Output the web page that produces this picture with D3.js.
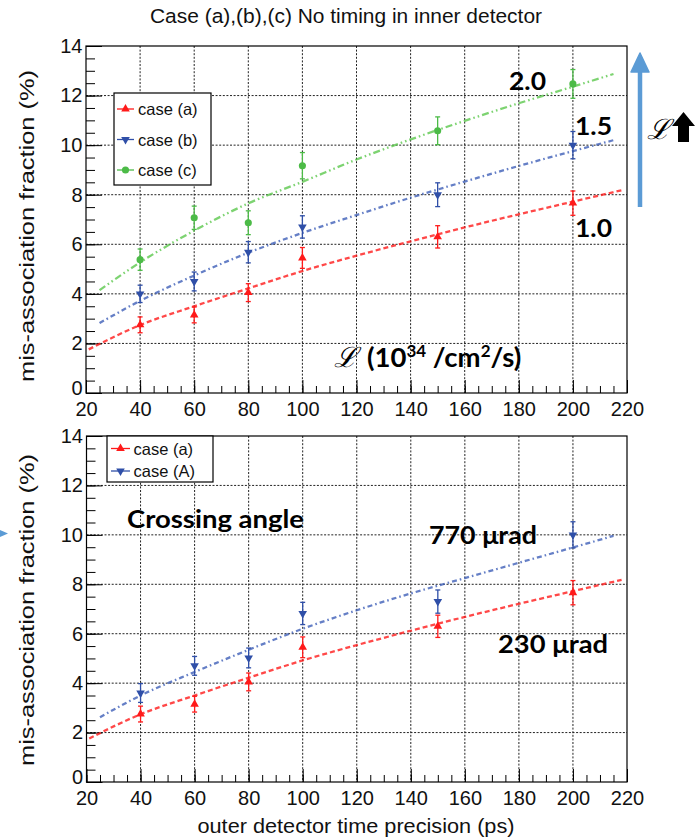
<!DOCTYPE html>
<html>
<head>
<meta charset="utf-8">
<script src="https://cdn.jsdelivr.net/npm/d3@7"></script>
<style>
  html, body { margin: 0; padding: 0; background: #fff; }
  svg { display: block; }
</style>
</head>
<body>
<svg id="chart" width="695" height="839"></svg>
<script>
// ---------------- DATA ----------------
const xPoints = [40, 60, 80, 100, 150, 200];

// top panel: luminosity
const caseA = [2.75, 3.15, 4.05, 5.45, 6.3, 7.66];
const errA  = [0.32, 0.32, 0.36, 0.42, 0.45, 0.49];
const caseB = [4.0, 4.5, 5.68, 6.7, 8.0, 10.0];
const errB  = [0.35, 0.38, 0.43, 0.45, 0.48, 0.55];
const caseC = [5.38, 7.07, 6.87, 9.17, 10.58, 12.47];
const errC  = [0.43, 0.47, 0.48, 0.53, 0.56, 0.58];

// bottom panel: crossing angle
const caseCapA = [3.6, 4.7, 5.02, 6.82, 7.3, 10.0];
const errCapA  = [0.38, 0.38, 0.40, 0.45, 0.47, 0.53];

// fit curves
const fitXa = [21, 40, 60, 80, 100, 120, 140, 160, 180, 200, 218];
const fitA  = [1.76, 2.74, 3.5, 4.22, 4.92, 5.54, 6.12, 6.68, 7.21, 7.72, 8.18];
const fitX  = [25, 40, 60, 80, 100, 120, 140, 160, 180, 200, 215];
const fitB  = [2.82, 3.72, 4.74, 5.66, 6.46, 7.18, 7.88, 8.53, 9.16, 9.76, 10.2];
const fitC  = [4.15, 5.27, 6.55, 7.65, 8.52, 9.42, 10.23, 10.98, 11.69, 12.36, 12.87];
const fitCapA = [2.62, 3.5, 4.45, 5.35, 6.2, 6.95, 7.63, 8.25, 8.87, 9.49, 9.96];

const xTicks = [20, 40, 60, 80, 100, 120, 140, 160, 180, 200, 220];
const yTicks = [0, 2, 4, 6, 8, 10, 12, 14];

const titleText = "Case (a),(b),(c) No timing in inner detector";
const yTitle = "mis-association fraction (%)";
const xTitle = "outer detector time precision (ps)";

// ---------------- STYLE ----------------
const RED = "#ff1a1a", BLUE = "#2f4fa8", GREEN = "#4cbb47";
const FONT = "'Liberation Sans', Arial, sans-serif";
const BOLD = "Lato, 'Open Sans', sans-serif";

const svg = d3.select("#chart");

function series(xs, ys, es) { return xs.map((x, i) => ({x, y: ys[i], e: es ? es[i] : 0})); }

function drawPanel(cfg) {
  const {L, R, T, B} = cfg;
  const x = d3.scaleLinear().domain([20, 220]).range([L, R]);
  const y = d3.scaleLinear().domain([0, 14]).range([B, T]);
  const g = svg.append("g");

  // grid
  const grid = g.append("g").attr("stroke", "#222").attr("stroke-width", 1).attr("stroke-dasharray", "2,1.6");
  grid.selectAll(".gx").data(xTicks.filter(v => v > 20 && v < 220)).join("line")
    .attr("x1", d => x(d)).attr("x2", d => x(d)).attr("y1", T).attr("y2", B);
  grid.selectAll(".gy").data(yTicks.filter(v => v > 0 && v < 14)).join("line")
    .attr("x1", L).attr("x2", R).attr("y1", d => y(d)).attr("y2", d => y(d));

  // axes
  const ax = g.append("g").attr("transform", `translate(0,${B})`)
    .call(d3.axisBottom(x).tickValues(xTicks).tickSize(-13).tickPadding(8.5).tickFormat(d3.format("d")));
  const axm = g.append("g").attr("transform", `translate(0,${B})`)
    .call(d3.axisBottom(x).tickValues(d3.range(20, 221, 5)).tickSize(-7).tickFormat(""));
  const ay = g.append("g").attr("transform", `translate(${L},0)`)
    .call(d3.axisLeft(y).tickValues(yTicks).tickSize(-16).tickPadding(3.5).tickFormat(d3.format("d")));
  const aym = g.append("g").attr("transform", `translate(${L},0)`)
    .call(d3.axisLeft(y).tickValues(d3.range(0, 14.01, 0.5)).tickSize(-9).tickFormat(""));
  [ax, axm, ay, aym].forEach(a => {
    a.select(".domain").remove();
    a.selectAll("line").attr("stroke", "#000").attr("stroke-width", 1);
    a.selectAll("text").attr("font-family", FONT).attr("font-size", 20).attr("fill", "#111");
  });
  // y "0" label sits slightly above the axis corner, as in the reference
  ay.selectAll(".tick").filter(d => d === 0).select("text").attr("dy", "0.05em");

  // frame
  g.append("rect").attr("x", L).attr("y", T).attr("width", R - L).attr("height", B - T)
    .attr("fill", "none").attr("stroke", "#000").attr("stroke-width", 1.2);

  // fits
  const line = d3.line().x(d => x(d.x)).y(d => y(d.y)).curve(d3.curveMonotoneX);
  cfg.fits.forEach(f => {
    g.append("path").datum(series(f.xs, f.ys)).attr("d", line)
      .attr("fill", "none").attr("stroke", f.color).attr("stroke-width", 2.3)
      .attr("stroke-opacity", 0.8).attr("stroke-dasharray", f.dash);
  });

  // points
  cfg.points.forEach(p => {
    const d = series(xPoints, p.ys, p.es);
    const pg = g.append("g").attr("stroke", p.color).attr("fill", p.color).attr("stroke-width", 1.3);
    pg.selectAll(".eb").data(d).join("line")
      .attr("x1", v => x(v.x)).attr("x2", v => x(v.x)).attr("y1", v => y(v.y - v.e)).attr("y2", v => y(v.y + v.e));
    pg.selectAll(".c1").data(d).join("line")
      .attr("x1", v => x(v.x) - 2.5).attr("x2", v => x(v.x) + 2.5).attr("y1", v => y(v.y + v.e)).attr("y2", v => y(v.y + v.e));
    pg.selectAll(".c2").data(d).join("line")
      .attr("x1", v => x(v.x) - 2.5).attr("x2", v => x(v.x) + 2.5).attr("y1", v => y(v.y - v.e)).attr("y2", v => y(v.y - v.e));
    pg.selectAll(".m").data(d).join("path")
      .attr("d", markerPath(p.marker))
      .attr("stroke", "none")
      .attr("transform", v => `translate(${x(v.x)},${y(v.y)})` + (p.marker === "down" ? " rotate(180)" : ""));
  });

  // legend
  const lg = cfg.legend;
  g.append("rect").attr("x", lg.x).attr("y", lg.y).attr("width", lg.w).attr("height", lg.h)
    .attr("fill", "#fff").attr("stroke", "#000").attr("stroke-width", 1.2);
  lg.items.forEach((it, i) => {
    const yy = lg.y0 + i * lg.dy;
    g.append("line").attr("x1", lg.lx1).attr("x2", lg.lx2).attr("y1", yy).attr("y2", yy)
      .attr("stroke", it.color).attr("stroke-width", 1.3);
    g.append("path").attr("d", markerPath(it.marker)).attr("fill", it.color)
      .attr("transform", `translate(${(lg.lx1 + lg.lx2) / 2},${yy})` + (it.marker === "down" ? " rotate(180)" : ""));
    g.append("text").attr("x", lg.tx).attr("y", yy + 6).text(it.label)
      .attr("font-family", FONT).attr("font-size", 16.5).attr("fill", "#111");
  });
  return {x, y, g};
}

function markerPath(m) {
  if (m === "circle") return d3.symbol(d3.symbolCircle, 40)();
  return d3.symbol(d3.symbolTriangle, 32)();
}

// ---------------- TOP PANEL ----------------
drawPanel({
  L: 86, R: 627, T: 46, B: 393,
  fits: [
    {xs: fitXa, ys: fitA, color: RED, dash: "5,3"},
    {xs: fitX, ys: fitB, color: "#3f5fb8", dash: "5,3,1.6,3"},
    {xs: fitX, ys: fitC, color: "#5cc84e", dash: "7,3,1.6,3,1.6,3"}
  ],
  points: [
    {ys: caseA, es: errA, color: RED, marker: "up"},
    {ys: caseB, es: errB, color: BLUE, marker: "down"},
    {ys: caseC, es: errC, color: GREEN, marker: "circle"}
  ],
  legend: {x: 114, y: 93, w: 97, h: 92, lx1: 117, lx2: 134, tx: 138, y0: 109, dy: 30.5,
    items: [
      {label: "case (a)", color: RED, marker: "up"},
      {label: "case (b)", color: BLUE, marker: "down"},
      {label: "case (c)", color: GREEN, marker: "circle"}
    ]}
});

// ---------------- BOTTOM PANEL ----------------
drawPanel({
  L: 86.5, R: 627, T: 436, B: 782,
  fits: [
    {xs: fitXa, ys: fitA, color: RED, dash: "5,3"},
    {xs: fitX, ys: fitCapA, color: "#3f5fb8", dash: "5,3,1.6,3"}
  ],
  points: [
    {ys: caseA, es: errA, color: RED, marker: "up"},
    {ys: caseCapA, es: errCapA, color: BLUE, marker: "down"}
  ],
  legend: {x: 107, y: 436, w: 106, h: 46, lx1: 111, lx2: 130, tx: 133.5, y0: 448.5, dy: 22.5,
    items: [
      {label: "case (a)", color: RED, marker: "up"},
      {label: "case (A)", color: BLUE, marker: "down"}
    ]}
});

// ---------------- TITLES ----------------
svg.append("text").attr("x", 346).attr("y", 23).attr("text-anchor", "middle")
  .attr("font-family", FONT).attr("font-size", 20.5).attr("fill", "#111")
  .attr("textLength", 392).attr("lengthAdjust", "spacingAndGlyphs").text(titleText);

[226, 610].forEach(cy => {
  svg.append("text").attr("transform", `translate(34,${cy}) rotate(-90)`).attr("text-anchor", "middle")
    .attr("font-family", FONT).attr("font-size", 20).attr("fill", "#111")
    .attr("textLength", 312).attr("lengthAdjust", "spacingAndGlyphs").text(yTitle);
});

svg.append("text").attr("x", 356).attr("y", 833).attr("text-anchor", "middle")
  .attr("font-family", FONT).attr("font-size", 20.5).attr("fill", "#111")
  .attr("textLength", 317).attr("lengthAdjust", "spacingAndGlyphs").text(xTitle);

// ---------------- ANNOTATIONS ----------------
function bold(txt, x, y, size, len) {
  const t = svg.append("text").attr("x", x).attr("y", y).attr("font-family", BOLD)
    .attr("font-weight", "bold").attr("font-size", size).attr("fill", "#000").text(txt);
  if (len) t.attr("textLength", len).attr("lengthAdjust", "spacingAndGlyphs");
  return t;
}
bold("2.0", 509, 90, 25, 37);
bold("1.5", 575, 135, 25, 37);
bold("1.0", 575, 237, 25, 37);
bold("Crossing angle", 127, 528, 24, 177);
bold("770 μrad", 429, 544, 25, 108);
bold("230 μrad", 498, 653, 25, 110);

// luminosity label
const lum = svg.append("text").attr("x", 334).attr("y", 367).attr("fill", "#000").attr("font-size", 27.5);
lum.append("tspan").attr("font-family", "'DejaVu Serif', serif").attr("font-style", "italic").attr("font-size", 28).text("ℒ");
lum.append("tspan").attr("font-family", BOLD).attr("font-weight", "bold").attr("dx", 10).text("(10");
lum.append("tspan").attr("font-family", BOLD).attr("font-weight", "bold").attr("font-size", 17).attr("dy", -10).text("34");
lum.append("tspan").attr("font-family", BOLD).attr("font-weight", "bold").attr("dy", 10).text(" /cm");
lum.append("tspan").attr("font-family", BOLD).attr("font-weight", "bold").attr("font-size", 17).attr("dy", -10).text("2");
lum.append("tspan").attr("font-family", BOLD).attr("font-weight", "bold").attr("dy", 10).text("/s)");

// blue arrow (luminosity increase)
const arr = svg.append("g");
arr.append("line").attr("x1", 640).attr("x2", 640).attr("y1", 207).attr("y2", 68)
  .attr("stroke", "#5b9bd5").attr("stroke-width", 4.5);
arr.append("path").attr("d", "M631,72 L640,53 L649,72 Z").attr("fill", "#5b9bd5")
  .attr("stroke", "#5b9bd5").attr("stroke-width", 1.5).attr("stroke-linejoin", "round");

svg.append("text").attr("x", 647).attr("y", 139).attr("font-family", "'DejaVu Serif', serif")
  .attr("font-style", "italic").attr("font-size", 28).attr("fill", "#000").text("ℒ");
svg.append("path").attr("d", "M672,126 L683.5,112 L695,126 L689,126 L689,142 L678,142 L678,126 Z").attr("fill", "#000");

// small blue mark at left edge
svg.append("path").attr("d", "M0,530 L8,533.5 L0,537 Z").attr("fill", "#5b9bd5");
</script>
</body>
</html>
